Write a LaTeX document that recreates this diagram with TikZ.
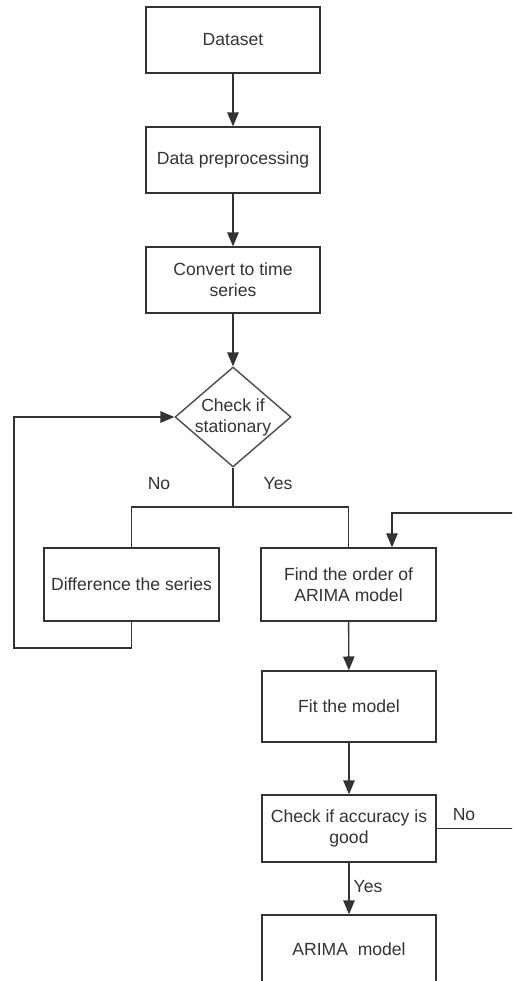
\documentclass[tikz,border=0pt]{standalone}
\usepackage{fontspec}
\setmainfont{Liberation Sans}
\usepackage{tikz}
\usetikzlibrary{shapes,shapes.geometric}
\usetikzlibrary{arrows}
\usetikzlibrary{calc}
\tikzset{proc/.style={rectangle,draw=black!80,fill=white,line width=0.8pt,
minimum width=3.48cm, minimum height=1.32cm, align=center, inner sep=2pt,
text=black!80, font=\fontsize{10}{12}\selectfont},
decision/.style={diamond,draw=black!70,fill=white,line width=0.8pt,aspect=1.16,
minimum width=2.32cm, minimum height=2cm, inner sep=0pt},
lbl/.style={text=black!80, font=\fontsize{10}{12}\selectfont},
-/.style={draw=black!80, line width=0.8pt},
>={triangle 45}}

\begin{document}
\begin{tikzpicture}[x=0.02cm,y=-0.02cm]
  \useasboundingbox (0,0) rectangle (512,981);
  \clip (0,0) rectangle (512,981);
  % main column
  \node (data) [proc] at (233,40) {Dataset};
  \node (prep) [proc] at (233,160) {Data preprocessing};
  \node (conv) [proc] at (233,280) {Convert to time\\series};
  \node (stat) [decision, label={[lbl,align=center]center:Check if\\stationary}] at (233,417) {};
  % the two branches
  \node (diff) [proc, minimum width=3.5cm, minimum height=1.46cm] at (131.5,584.5) {Difference the series};
  \node (order) [proc, minimum width=3.5cm, minimum height=1.46cm] at (348.5,584.5) {Find the order of\\ARIMA model};
  \node (fit) [proc, minimum height=1.42cm] at (349,706.5) {Fit the model};
  \node (acc) [proc, minimum height=1.34cm] at (349,828.5) {Check if accuracy is\\good};
  \node (arima) [proc, minimum height=1.36cm] at (349,949) {ARIMA~ model};
  \coordinate (split) at (233,507);
  \coordinate (loop) at (14,648);
  \coordinate (back) at (516,513);
  \node (no1) [lbl] at (159,484) {No};
  \node (yes1) [lbl] at (278,484) {Yes};
  \node (no2) [lbl] at (464,815) {No};
  \node (yes2) [lbl] at (368,887) {Yes};
  \draw [-,->] (data) -- (prep);
  \draw [-,->] (prep) -- (conv);
  \draw [-,->] (conv) -- (stat);
  \draw [-] (stat.south) -- (split) -| (diff.north);
  \draw [-] (split) -| (order.north);
  \draw [-,->] (diff.south) |- (loop) |- (stat.west);
  \draw [-,->] (order) -- (fit);
  \draw [-,->] (fit) -- (acc);
  \draw [-,->] (acc) -- (arima);
  \draw [-,->] (acc.east) -| (back) -| ([xshift=0.87cm]order.north);
\end{tikzpicture}
\end{document}
